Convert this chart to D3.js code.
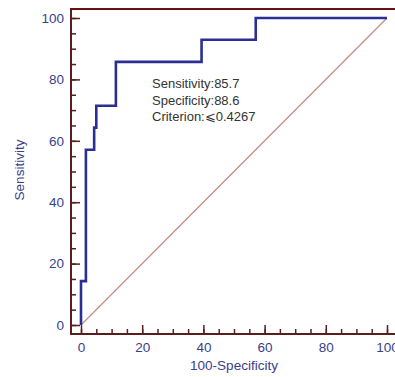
<!DOCTYPE html>
<html>
<head>
<meta charset="utf-8">
<script src="https://cdn.jsdelivr.net/npm/d3@7"></script>
<style>
  body { margin: 0; background: #fff; }
  svg { display: block; font-family: "Liberation Sans", Arial, sans-serif; }
</style>
</head>
<body>
<div id="vis"></div>
<script>
var width = 395;
var height = 377;

// ROC step points (100-Specificity, Sensitivity)
var fpr = [0, 0, 1.6, 1.6, 4.3, 4.3, 5.0, 5.0, 11.4, 11.4, 39.4, 39.4, 57.1, 57.1, 100];
var tpr = [0, 14.3, 14.3, 57.1, 57.1, 64.3, 64.3, 71.4, 71.4, 85.7, 85.7, 92.9, 92.9, 100, 100];
var majorTicks = [0, 20, 40, 60, 80, 100];
var minorTicks = d3.range(0, 101, 5);
var notes = ["Sensitivity:85.7", "Specificity:88.6", "Criterion:\u2A7D0.4267"];

var axisColor = '#5a1e1e';
var labelColor = '#39418a';

var svg = d3.select('#vis')
    .append('svg')
    .attr('width', width)
    .attr('height', height);

var x = d3.scaleLinear().domain([0, 100]).range([81, 387]);
var y = d3.scaleLinear().domain([0, 100]).range([325, 18]);

var axisX = 71;   // left axis line position
var axisY = 334;  // bottom axis line position

// minor ticks
svg.append('g')
    .attr('transform', 'translate(' + axisX + ',0)')
    .call(d3.axisLeft(y).tickValues(minorTicks).tickSize(-5).tickFormat(''))
    .call(function (g) { g.select('.domain').remove(); })
    .selectAll('line').attr('stroke', axisColor).attr('stroke-width', 1.5);

svg.append('g')
    .attr('transform', 'translate(0,' + axisY + ')')
    .call(d3.axisBottom(x).tickValues(minorTicks).tickSize(-5).tickFormat(''))
    .call(function (g) { g.select('.domain').remove(); })
    .selectAll('line').attr('stroke', axisColor).attr('stroke-width', 1.5);

// major ticks + labels
var yAxis = svg.append('g')
    .attr('transform', 'translate(' + axisX + ',0)')
    .call(d3.axisLeft(y).tickValues(majorTicks).tickSize(-9).tickPadding(7))
    .call(function (g) { g.select('.domain').remove(); });
yAxis.selectAll('line').attr('stroke', axisColor).attr('stroke-width', 1.5);
yAxis.selectAll('text').attr('fill', labelColor).style('font-size', '13.5px');

var xAxis = svg.append('g')
    .attr('transform', 'translate(0,' + axisY + ')')
    .call(d3.axisBottom(x).tickValues(majorTicks).tickSize(-9).tickPadding(8))
    .call(function (g) { g.select('.domain').remove(); });
xAxis.selectAll('line').attr('stroke', axisColor).attr('stroke-width', 1.5);
xAxis.selectAll('text').attr('fill', labelColor).style('font-size', '13.5px');

// axis lines and top frame
svg.append('line')
    .attr('x1', axisX).attr('x2', axisX)
    .attr('y1', 9).attr('y2', axisY + 1)
    .attr('stroke', axisColor).attr('stroke-width', 2);
svg.append('line')
    .attr('x1', axisX - 1).attr('x2', width)
    .attr('y1', axisY).attr('y2', axisY)
    .attr('stroke', axisColor).attr('stroke-width', 2);
svg.append('line')
    .attr('x1', axisX - 1).attr('x2', width)
    .attr('y1', 9).attr('y2', 9)
    .attr('stroke', '#6a1010').attr('stroke-width', 2);

// reference diagonal
svg.append('line')
    .attr('x1', x(0)).attr('y1', y(0))
    .attr('x2', x(100)).attr('y2', y(100))
    .attr('stroke', '#c98a84').attr('stroke-width', 1.2);

// ROC curve
var pts = fpr.map(function (d, i) { return [d, tpr[i]]; });
var line = d3.line()
    .x(function (d) { return x(d[0]); })
    .y(function (d) { return y(d[1]); });
svg.append('path')
    .datum(pts)
    .attr('d', line)
    .attr('fill', 'none')
    .attr('stroke', '#2b2f94')
    .attr('stroke-width', 2.6)
    .attr('stroke-linejoin', 'miter');

// annotation
svg.append('g').selectAll('text')
    .data(notes)
    .enter().append('text')
    .attr('x', 152)
    .attr('y', function (d, i) { return 88 + i * 16.7; })
    .attr('fill', '#333')
    .style('font-size', '13px')
    .text(function (d) { return d; });

// axis titles
svg.append('text')
    .attr('x', 234).attr('y', 370)
    .attr('text-anchor', 'middle')
    .attr('fill', labelColor)
    .style('font-size', '13.5px')
    .text('100-Specificity');
svg.append('text')
    .attr('transform', 'translate(24,170) rotate(-90)')
    .attr('text-anchor', 'middle')
    .attr('fill', labelColor)
    .style('font-size', '13.5px')
    .text('Sensitivity');
</script>
</body>
</html>
